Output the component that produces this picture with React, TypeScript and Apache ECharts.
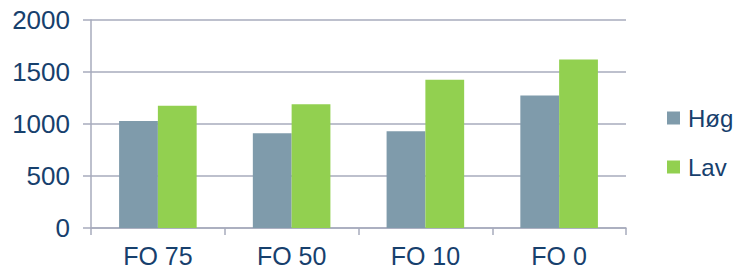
import React, { useEffect, useRef } from "react";
import * as echarts from "echarts";

const categories = ["FO 75", "FO 50", "FO 10", "FO 0"];
const hogValues = [1030, 910, 930, 1275];
const lavValues = [1175, 1190, 1425, 1620];
const seriesNames = ["Høg", "Lav"];

const TEXT = "#17406D";
const GRID = "#A7ABBC";

export default function App() {
  const ref = useRef<HTMLDivElement>(null);
  useEffect(() => {
    const chart = echarts.init(ref.current!, undefined, { renderer: "svg" });
    chart.setOption({
      animation: false,
      grid: { left: 91, right: 112, top: 20, bottom: 43 },
      legend: {
        orient: "vertical",
        left: 667,
        top: 106,
        padding: 0,
        itemWidth: 13,
        itemHeight: 13,
        itemGap: 25,
        icon: "rect",
        textStyle: { color: TEXT, fontSize: 24, fontFamily: "Liberation Sans, Arial", padding: [0, 0, 0, 3] },
        data: seriesNames,
      },
      xAxis: {
        type: "category",
        data: categories,
        axisLine: { lineStyle: { color: GRID, width: 1.5 } },
        axisTick: { show: true, length: 7, lineStyle: { color: GRID, width: 1.5 } },
        axisLabel: { color: TEXT, fontSize: 25, fontFamily: "Liberation Sans, Arial", margin: 15, lineHeight: 25 },
      },
      yAxis: {
        type: "value",
        min: 0,
        max: 2000,
        interval: 500,
        axisLine: { show: true, lineStyle: { color: GRID, width: 1.5 } },
        axisTick: { show: true, length: 8, lineStyle: { color: GRID, width: 1.5 } },
        splitLine: { lineStyle: { color: GRID, width: 1.5 } },
        axisLabel: {
          color: TEXT,
          fontSize: 26,
          fontFamily: "Liberation Sans, Arial",
          margin: 21,
          formatter: (v: number) => String(v),
        },
      },
      series: [
        {
          name: seriesNames[0],
          type: "bar",
          data: hogValues,
          barGap: "0%",
          barCategoryGap: "42%",
          itemStyle: { color: "#7F9BAB" },
        },
        {
          name: seriesNames[1],
          type: "bar",
          data: lavValues,
          barGap: "0%",
          barCategoryGap: "42%",
          itemStyle: { color: "#92D050" },
        },
      ],
    });
    return () => chart.dispose();
  }, []);
  return <div ref={ref} style={{ width: 738, height: 271, position: "absolute", left: 0, top: 0 }} />;
}
